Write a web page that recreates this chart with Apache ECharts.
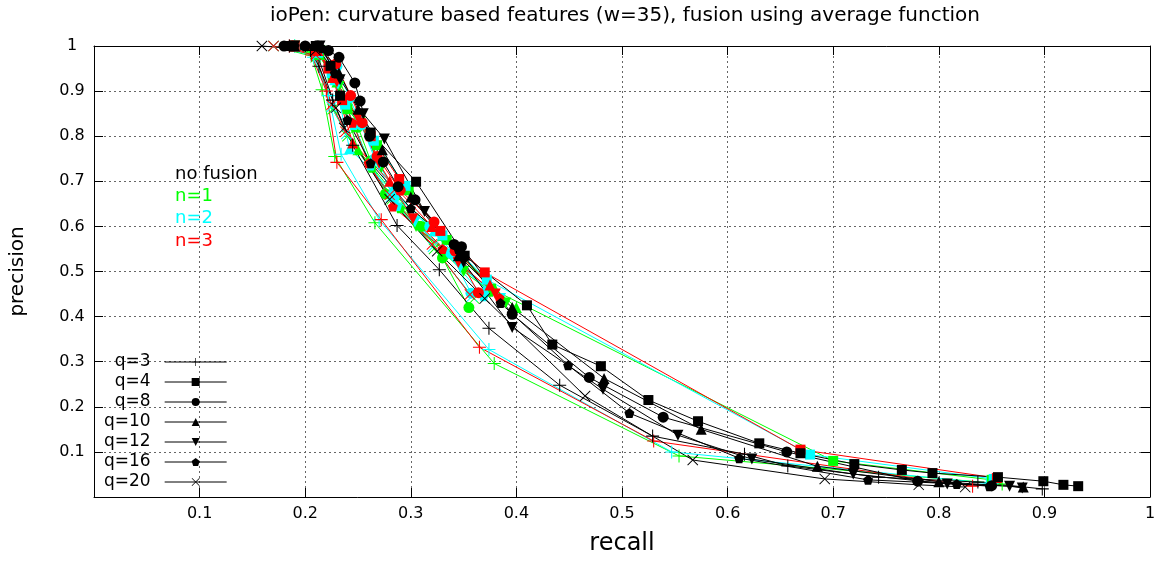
<!DOCTYPE html>
<html>
<head>
<meta charset="utf-8">
<script src="https://cdn.jsdelivr.net/npm/echarts@6/dist/echarts.min.js"></script>
<style>
html, body { margin: 0; padding: 0; background: #fff; }
#chart { width: 1159px; height: 561px; }
</style>
</head>
<body>
<div id="chart"></div>
<script>
// Tick labels (0 is left unlabeled on both axes)
const xTickLabels = ['', '0.1', '0.2', '0.3', '0.4', '0.5', '0.6', '0.7', '0.8', '0.9', '1'];
const yTickLabels = ['', '0.1', '0.2', '0.3', '0.4', '0.5', '0.6', '0.7', '0.8', '0.9', '1'];

// Quantisation levels and fusion variants
const qNames = ['q=3', 'q=4', 'q=8', 'q=10', 'q=12', 'q=16', 'q=20'];
const fusionNames = ['no fusion', 'n=1', 'n=2', 'n=3'];

// [recall, precision] — no fusion
const q3_none = [[0.185,1.0],[0.205,0.99],[0.213,0.955],[0.226,0.88],[0.245,0.78],[0.287,0.602],[0.327,0.504],[0.374,0.374],[0.441,0.248],[0.529,0.135],[0.616,0.095],[0.657,0.069],[0.743,0.044],[0.837,0.033],[0.898,0.018]];
const q4_none = [[0.185,1.0],[0.21,1.0],[0.224,0.956],[0.233,0.89],[0.262,0.808],[0.305,0.699],[0.351,0.535],[0.41,0.425],[0.434,0.338],[0.48,0.29],[0.525,0.215],[0.572,0.168],[0.63,0.119],[0.669,0.097],[0.72,0.073],[0.765,0.06],[0.794,0.053],[0.856,0.044],[0.899,0.035],[0.918,0.027],[0.932,0.024]];
const q8_none = [[0.18,1.0],[0.2,1.0],[0.212,1.0],[0.222,0.99],[0.232,0.975],[0.247,0.918],[0.252,0.878],[0.261,0.8],[0.274,0.743],[0.288,0.688],[0.304,0.659],[0.341,0.56],[0.348,0.555],[0.396,0.405],[0.469,0.265],[0.539,0.177],[0.656,0.1],[0.78,0.035],[0.85,0.025]];
const q10_none = [[0.19,1.0],[0.215,1.0],[0.232,0.94],[0.25,0.86],[0.273,0.77],[0.3,0.665],[0.345,0.535],[0.396,0.42],[0.483,0.263],[0.575,0.15],[0.685,0.068],[0.8,0.034],[0.88,0.022]];
const q12_none = [[0.19,1.0],[0.214,1.0],[0.233,0.925],[0.255,0.85],[0.275,0.794],[0.313,0.633],[0.35,0.52],[0.396,0.376],[0.482,0.239],[0.553,0.137],[0.623,0.084],[0.719,0.051],[0.808,0.029],[0.867,0.024],[0.879,0.02]];
const q16_none = [[0.19,1.0],[0.216,0.995],[0.228,0.94],[0.24,0.836],[0.262,0.74],[0.3,0.64],[0.345,0.55],[0.385,0.43],[0.449,0.292],[0.507,0.186],[0.611,0.086],[0.733,0.038],[0.817,0.029],[0.848,0.024]];
const q20_none = [[0.159,1.0],[0.21,0.99],[0.229,0.863],[0.237,0.818],[0.28,0.66],[0.325,0.545],[0.37,0.44],[0.465,0.224],[0.567,0.082],[0.692,0.04],[0.781,0.027],[0.825,0.022]];

// fusion n=1
const q3_n1 = [[0.19,1.0],[0.205,0.985],[0.216,0.903],[0.228,0.755],[0.266,0.608],[0.379,0.296],[0.554,0.091],[0.86,0.029]];
const q4_n1 = [[0.19,1.0],[0.213,0.98],[0.226,0.93],[0.24,0.86],[0.268,0.78],[0.298,0.68],[0.334,0.57],[0.376,0.462],[0.7,0.08],[0.85,0.038]];
const q8_n1 = [[0.19,1.0],[0.21,0.99],[0.228,0.95],[0.24,0.88],[0.25,0.82],[0.262,0.745],[0.276,0.672],[0.31,0.6],[0.33,0.53],[0.355,0.42]];
const q10_n1 = [[0.19,1.0],[0.212,0.99],[0.23,0.92],[0.25,0.77],[0.285,0.67],[0.33,0.58],[0.38,0.46],[0.4,0.42]];
const q12_n1 = [[0.19,1.0],[0.214,0.99],[0.232,0.91],[0.252,0.83],[0.272,0.73],[0.305,0.6],[0.35,0.5],[0.39,0.43]];
const q16_n1 = [[0.19,1.0],[0.213,0.99],[0.23,0.92],[0.247,0.82],[0.263,0.73],[0.29,0.64],[0.335,0.54],[0.375,0.455]];
const q20_n1 = [[0.17,1.0],[0.21,0.975],[0.226,0.86],[0.24,0.8],[0.282,0.66],[0.322,0.55],[0.36,0.44]];

// fusion n=2
const q3_n2 = [[0.19,1.0],[0.208,0.975],[0.222,0.89],[0.234,0.76],[0.27,0.615],[0.374,0.327],[0.547,0.1],[0.845,0.031]];
const q4_n2 = [[0.19,1.0],[0.212,0.985],[0.225,0.94],[0.238,0.87],[0.265,0.79],[0.295,0.69],[0.33,0.58],[0.372,0.482],[0.678,0.094],[0.852,0.04]];
const q8_n2 = [[0.19,1.0],[0.212,0.99],[0.23,0.955],[0.242,0.885],[0.253,0.825],[0.266,0.75],[0.284,0.664],[0.318,0.6],[0.338,0.54],[0.357,0.452]];
const q10_n2 = [[0.19,1.0],[0.212,0.99],[0.228,0.925],[0.242,0.772],[0.282,0.68],[0.322,0.59],[0.37,0.46]];
const q12_n2 = [[0.19,1.0],[0.213,0.99],[0.231,0.915],[0.251,0.835],[0.27,0.735],[0.304,0.61],[0.347,0.51],[0.385,0.44]];
const q16_n2 = [[0.19,1.0],[0.212,0.99],[0.229,0.925],[0.246,0.825],[0.262,0.735],[0.287,0.645],[0.33,0.55],[0.369,0.445]];
const q20_n2 = [[0.17,1.0],[0.21,0.978],[0.225,0.865],[0.239,0.805],[0.281,0.665],[0.321,0.555],[0.358,0.445]];

// fusion n=3
const q3_n3 = [[0.185,1.0],[0.206,0.98],[0.22,0.9],[0.23,0.742],[0.272,0.615],[0.365,0.332],[0.53,0.124],[0.832,0.024]];
const q4_n3 = [[0.19,1.0],[0.21,0.99],[0.222,0.95],[0.235,0.88],[0.262,0.8],[0.289,0.705],[0.328,0.59],[0.37,0.498],[0.669,0.105],[0.855,0.042]];
const q8_n3 = [[0.188,1.0],[0.21,0.995],[0.229,0.96],[0.243,0.89],[0.254,0.83],[0.268,0.755],[0.29,0.68],[0.322,0.61],[0.342,0.545],[0.364,0.453]];
const q10_n3 = [[0.19,1.0],[0.212,0.99],[0.226,0.93],[0.245,0.785],[0.28,0.7],[0.32,0.6],[0.375,0.47]];
const q12_n3 = [[0.19,1.0],[0.213,0.99],[0.23,0.92],[0.25,0.84],[0.27,0.74],[0.302,0.617],[0.345,0.52],[0.38,0.45]];
const q16_n3 = [[0.19,1.0],[0.212,0.99],[0.228,0.93],[0.245,0.83],[0.26,0.74],[0.283,0.644],[0.33,0.55],[0.384,0.442]];
const q20_n3 = [[0.17,1.0],[0.21,0.98],[0.225,0.87],[0.238,0.81],[0.28,0.67],[0.32,0.56],[0.356,0.449]];

const curvesByFusion = [
  [q3_none, q4_none, q8_none, q10_none, q12_none, q16_none, q20_none],
  [q3_n1, q4_n1, q8_n1, q10_n1, q12_n1, q16_n1, q20_n1],
  [q3_n2, q4_n2, q8_n2, q10_n2, q12_n2, q16_n2, q20_n2],
  [q3_n3, q4_n3, q8_n3, q10_n3, q12_n3, q16_n3, q20_n3]
];
const fusionColors = ['#000000', '#00ff00', '#00ffff', '#ff0000'];

// Point shapes per q level
const markers = [
  { symbol: 'path://M-1,-0.08L1,-0.08L1,0.08L-1,0.08Z M-0.08,-1L0.08,-1L0.08,1L-0.08,1Z', size: 13 },
  { symbol: 'rect', size: 10 },
  { symbol: 'circle', size: 11 },
  { symbol: 'path://M0,-1L1,0.75L-1,0.75Z', size: 11 },
  { symbol: 'path://M-1,-0.75L1,-0.75L0,1Z', size: 11 },
  { symbol: 'path://M0,-1L0.951,-0.309L0.588,0.809L-0.588,0.809L-0.951,-0.309Z', size: 10 },
  { symbol: 'path://M-1,-0.88L-0.88,-1L1,0.88L0.88,1Z M1,-0.88L-0.88,1L-1,0.88L0.88,-1Z', size: 11 }
];

const FONT = '"DejaVu Sans", Verdana, sans-serif';

function buildSeries(fusionIdx, qIdx) {
  const color = fusionColors[fusionIdx];
  const m = markers[qIdx];
  return {
    type: 'line',
    name: fusionIdx === 0 ? qNames[qIdx] : qNames[qIdx] + ' ' + fusionNames[fusionIdx],
    data: curvesByFusion[fusionIdx][qIdx],
    symbol: m.symbol,
    symbolSize: m.size,
    showAllSymbol: true,
    clip: false,
    color: color,
    lineStyle: { color: color, width: 1 },
    itemStyle: { color: color },
    emphasis: { disabled: true },
    z: 2
  };
}

// colored fusion curves first, plain curves drawn on top
const series = [];
[1, 2, 3, 0].forEach(f => {
  for (let q = 0; q < qNames.length; q++) series.push(buildSeries(f, q));
});

const gridLine = { show: true, lineStyle: { color: '#666', width: 1, type: [2, 3] } };
const borderLine = { show: true, onZero: false, lineStyle: { color: '#000', width: 1 } };
const tickIn = { show: true, inside: true, length: 9, lineStyle: { color: '#000', width: 1 } };

const chart = echarts.init(document.getElementById('chart'), null, { renderer: 'canvas' });
chart.setOption({
  animation: false,
  backgroundColor: '#fff',
  title: {
    text: 'ioPen: curvature based features (w=35), fusion using average function',
    left: 620, top: 1, textAlign: 'center',
    textStyle: { fontFamily: FONT, fontSize: 20, fontWeight: 'normal', color: '#000' }
  },
  grid: { left: 91, right: 9, top: 46, bottom: 63, containLabel: false },
  xAxis: [
    {
      type: 'value', min: 0, max: 1, interval: 0.1, position: 'bottom',
      axisLine: borderLine, axisTick: tickIn, splitLine: gridLine,
      axisLabel: {
        margin: 9, fontFamily: FONT, fontSize: 16, color: '#000',
        formatter: v => xTickLabels[Math.round(v * 10)]
      },
      name: 'recall', nameLocation: 'middle', nameGap: 35,
      nameTextStyle: { fontFamily: FONT, fontSize: 24, color: '#000' }
    },
    {
      type: 'value', min: 0, max: 1, interval: 0.1, position: 'top',
      axisLine: borderLine, axisTick: tickIn, splitLine: { show: false },
      axisLabel: { show: false }
    }
  ],
  yAxis: [
    {
      type: 'value', min: 0, max: 1, interval: 0.1, position: 'left',
      axisLine: borderLine, axisTick: tickIn, splitLine: gridLine,
      axisLabel: {
        margin: 22, align: 'center', fontFamily: FONT, fontSize: 16, color: '#000',
        formatter: v => yTickLabels[Math.round(v * 10)]
      },
      name: 'precision', nameLocation: 'middle', nameGap: 66,
      nameTextStyle: { fontFamily: FONT, fontSize: 20, color: '#000' }
    },
    {
      type: 'value', min: 0, max: 1, interval: 0.1, position: 'right',
      axisLine: borderLine, axisTick: tickIn, splitLine: { show: false },
      axisLabel: { show: false }
    }
  ],
  legend: {
    data: qNames,
    orient: 'vertical',
    left: 104, top: 352,
    align: 'right',
    padding: 0,
    itemWidth: 62, itemHeight: 10, itemGap: 0,
    selectedMode: false,
    lineStyle: { width: 1 },
    textStyle: { fontFamily: FONT, fontSize: 17, color: '#000', lineHeight: 20, padding: [0, 9, 0, 0] }
  },
  graphic: fusionNames.map((t, i) => ({
    type: 'text',
    x: 175, y: 174 + i * 22.3,
    style: { text: t, fill: fusionColors[i], font: '18px ' + FONT, verticalAlign: 'middle' }
  })),
  series: series
});
</script>
</body>
</html>
